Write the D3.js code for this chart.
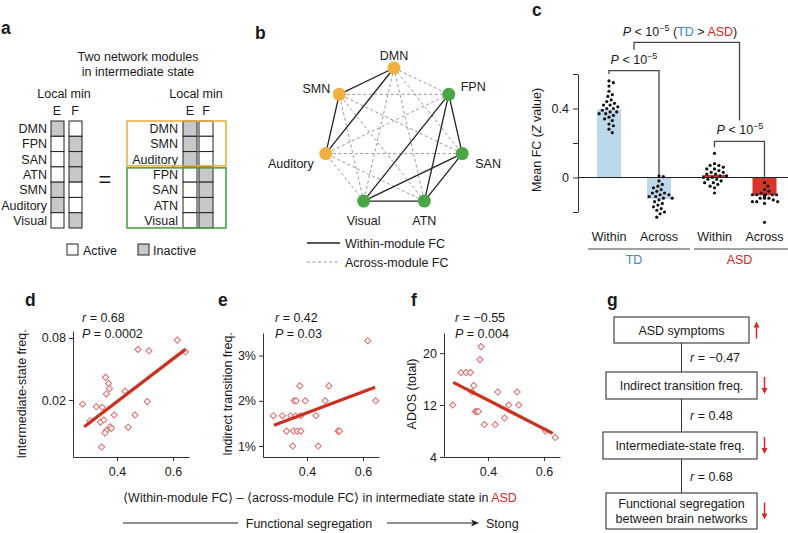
<!DOCTYPE html>
<html><head><meta charset="utf-8">
<script src="https://cdn.jsdelivr.net/npm/d3@7"></script>
<style>
body{margin:0;background:#fff}
svg{display:block}
</style></head><body>
<svg id="fig" width="788" height="533"></svg>
<script>
// ---------------- DATA ----------------
// panel a
const aLeftNets  = ["DMN","FPN","SAN","ATN","SMN","Auditory","Visual"];
const aLeftE     = [0,1,1,1,0,0,1];   // 1 = active, 0 = inactive
const aLeftF     = [1,0,0,0,1,1,0];
const aRightNets = ["DMN","SMN","Auditory","FPN","SAN","ATN","Visual"];
const aRightE    = [0,0,0,1,1,1,1];
const aRightF    = [1,1,1,0,0,0,0];
const aModules   = [3,4];
// panel b
const bNodes  = ["DMN","FPN","SAN","ATN","Visual","Auditory","SMN"];
const bModule = ["A","B","B","B","B","A","A"];
// panel c
const cGroups = ["TD","ASD"];
const cConds  = ["Within","Across"];
const cMeanTD  = [0.395,-0.125];
const cMeanASD = [0.015,-0.103];
const cTDWithin  = [0.56,0.55,0.53,0.50,0.48,0.47,0.45,0.44,0.43,0.42,0.42,0.41,0.40,0.40,0.39,0.38,0.38,0.37,0.37,0.36,0.35,0.34,0.33,0.31,0.30,0.28,0.26];
const cTDAcross  = [0.01,0.005,-0.02,-0.04,-0.05,-0.06,-0.07,-0.08,-0.09,-0.09,-0.10,-0.10,-0.11,-0.11,-0.12,-0.12,-0.13,-0.14,-0.15,-0.16,-0.17,-0.18,-0.19,-0.20,-0.21,-0.23];
const cASDWithin = [0.14,0.08,0.07,0.07,0.06,0.05,0.05,0.04,0.03,0.03,0.02,0.02,0.01,0.01,0.0,0.0,-0.01,-0.01,-0.02,-0.03,-0.03,-0.04,-0.05,-0.06,-0.09];
const cASDAcross = [-0.03,-0.05,-0.07,-0.08,-0.09,-0.10,-0.10,-0.10,-0.10,-0.10,-0.10,-0.11,-0.12,-0.12,-0.12,-0.13,-0.14,-0.14,-0.14,-0.15,-0.26];
const cYTicks = [-0.2,0,0.2,0.4,0.6];
// panel d
const dX = [0.615,0.644,0.475,0.514,0.359,0.370,0.373,0.362,0.429,0.277,0.326,0.347,0.508,0.390,0.464,0.304,0.341,0.353,0.362,0.376,0.380,0.440,0.357,0.345];
const dY = [0.0762,0.0588,0.0620,0.0601,0.0332,0.0290,0.0259,0.0229,0.0244,0.0182,0.0172,0.0170,0.0193,0.0143,0.0143,0.0126,0.0122,0.0128,0.0101,0.0110,0.0106,0.0109,0.0096,0.0070];
const dFitX = [0.283,0.644], dFitY = [0.0110,0.062];
const dYTicks = [0.02,0.08];
// panel e (percent)
const eX = [0.617,0.645,0.374,0.478,0.354,0.361,0.394,0.465,0.280,0.312,0.342,0.359,0.378,0.432,0.327,0.352,0.366,0.378,0.511,0.516,0.349,0.440];
const eY = [3.33,2.0,2.33,2.33,2.0,2.0,2.0,2.0,1.67,1.67,1.67,1.67,1.67,1.67,1.33,1.33,1.33,1.33,1.33,1.33,1.0,1.0];
const eFitX = [0.282,0.643], eFitY = [1.46,2.30];
const eYTicks = [1,2,3];
// panel f
const fX = [0.375,0.371,0.304,0.322,0.337,0.349,0.343,0.435,0.504,0.274,0.474,0.510,0.355,0.360,0.366,0.459,0.387,0.426,0.605,0.640];
const fY = [21,19,17,17,17,15,14,14,14,12,12,12,11,11,11,10,9,9,8,7];
const fFitX = [0.276,0.631], fFitY = [15.5,7.65];
const fYTicks = [4,12,20];
const xTicksDEF = [0.4,0.6];
const statsDEF = [["0.68","0.0002"],["0.42","0.03"],["\u22120.55","0.004"]];
// panel g
const gBoxes = [["ASD symptoms"],["Indirect transition freq."],["Intermediate-state freq."],["Functional segregation","between brain networks"]];
const gR     = ["\u22120.47","0.48","0.68"];
const gTrend = ["up","down","down","down"];

// ---------------- DRAW ----------------
const FONT = '"Liberation Sans", Arial, Helvetica, sans-serif';
const FS = 12.5;
const svg = d3.select("#fig").attr("font-family",FONT).attr("font-size",FS).attr("fill","#1a1a1a");
const RED = "#d42a26", BLUE = "#3d84c6", ORANGE="#f0b040", GREEN="#4aa545", GRAY="#c8c8c8";

function T(g,x,y,s,anchor){ return g.append("text").attr("x",x).attr("y",y).attr("text-anchor",anchor||"start").text(s); }
function letter(x,y,s){ T(svg,x,y,s).attr("font-weight","bold").attr("font-size",17.5); }
letter(1,34,"a"); letter(255,39,"b"); letter(532,16,"c"); letter(25,306,"d"); letter(218,306,"e"); letter(411,306,"f"); letter(607,306,"g");

// ===== panel a =====
const gA = svg.append("g");
T(gA,138,61,"Two network modules","middle");
T(gA,138,76,"in intermediate state","middle");
T(gA,64,98,"Local min","middle");
T(gA,57,115,"E","middle"); T(gA,75,115,"F","middle");
T(gA,196,98,"Local min","middle");
T(gA,190,115,"E","middle"); T(gA,206,115,"F","middle");
const yRow = d3.scaleBand().domain(d3.range(7)).range([121,228]);
function cells(names, E, Fv, labelX, ex, fx, w){
  names.forEach((n,i)=>{
    T(gA,labelX,yRow(i)+yRow.bandwidth()/2+4.5,n,"end");
    gA.append("rect").attr("x",ex).attr("y",yRow(i)).attr("width",w).attr("height",yRow.bandwidth())
      .attr("fill",E[i]?"#fff":GRAY).attr("stroke","#222").attr("stroke-width",1);
    gA.append("rect").attr("x",fx).attr("y",yRow(i)).attr("width",w).attr("height",yRow.bandwidth())
      .attr("fill",Fv[i]?"#fff":GRAY).attr("stroke","#222").attr("stroke-width",1);
  });
}
cells(aLeftNets,aLeftE,aLeftF,47,51,69,13);
cells(aRightNets,aRightE,aRightF,178,183,199,14);
T(gA,105,187,"=","middle").attr("font-size",22);
// module boxes
gA.append("rect").attr("x",127).attr("y",yRow(0)).attr("width",99).attr("height",yRow.bandwidth()*aModules[0]-1)
  .attr("fill","none").attr("stroke",ORANGE).attr("stroke-width",1.6);
gA.append("rect").attr("x",127).attr("y",yRow(aModules[0])+1).attr("width",99).attr("height",yRow.bandwidth()*aModules[1]-1)
  .attr("fill","none").attr("stroke",GREEN).attr("stroke-width",1.6);
// legend
gA.append("rect").attr("x",67).attr("y",244).attr("width",11).attr("height",11).attr("fill","#fff").attr("stroke","#222");
T(gA,83,255,"Active");
gA.append("rect").attr("x",138).attr("y",244).attr("width",11).attr("height",11).attr("fill",GRAY).attr("stroke","#222");
T(gA,153,255,"Inactive");

// ===== panel b =====
const gB = svg.append("g");
const ang = d3.scaleLinear().domain([0,bNodes.length]).range([-Math.PI/2, 1.5*Math.PI]);
const bc = [394,138], br = 70;
const pos = bNodes.map((n,i)=>[bc[0]+br*Math.cos(ang(i)), bc[1]+br*Math.sin(ang(i))]);
const edges = [];
for(let i=0;i<bNodes.length;i++) for(let j=i+1;j<bNodes.length;j++) edges.push([i,j,bModule[i]===bModule[j]]);
gB.selectAll("line.e").data(edges.filter(e=>!e[2])).join("line")
  .attr("x1",d=>pos[d[0]][0]).attr("y1",d=>pos[d[0]][1]).attr("x2",d=>pos[d[1]][0]).attr("y2",d=>pos[d[1]][1])
  .attr("stroke","#999").attr("stroke-width",1).attr("stroke-dasharray","3,2.5");
gB.selectAll("line.s").data(edges.filter(e=>e[2])).join("line")
  .attr("x1",d=>pos[d[0]][0]).attr("y1",d=>pos[d[0]][1]).attr("x2",d=>pos[d[1]][0]).attr("y2",d=>pos[d[1]][1])
  .attr("stroke","#222").attr("stroke-width",1.3);
gB.selectAll("circle").data(bNodes).join("circle")
  .attr("cx",(d,i)=>pos[i][0]).attr("cy",(d,i)=>pos[i][1]).attr("r",6.5)
  .attr("fill",(d,i)=>bModule[i]==="A"?ORANGE:GREEN);
const lblOff = {DMN:[0,-8,"middle"],FPN:[12,-3,"start"],SAN:[13,14,"start"],ATN:[0,24,"middle"],Visual:[0,24,"middle"],Auditory:[-12,14,"end"],SMN:[-9,-1,"end"]};
bNodes.forEach((n,i)=>{const o=lblOff[n]; T(gB,pos[i][0]+o[0],pos[i][1]+o[1],n,o[2]);});
gB.append("line").attr("x1",307).attr("x2",340).attr("y1",243).attr("y2",243).attr("stroke","#222").attr("stroke-width",1.3);
T(gB,345,247.5,"Within-module FC");
gB.append("line").attr("x1",307).attr("x2",340).attr("y1",262).attr("y2",262).attr("stroke","#999").attr("stroke-dasharray","3,2.5");
T(gB,345,266.5,"Across-module FC");

// ===== panel c =====
const gC = svg.append("g");
const yC = d3.scaleLinear().domain([-0.2,0.6]).range([212,74]);
const xGroup = d3.scalePoint().domain(cGroups).range([634,739.5]);
const xCond = d3.scalePoint().domain(cConds).range([-25,25]);
const cx = (g,c)=>xGroup(g)+xCond(c);
const bw = 24;
const bars = [["TD","Within",cMeanTD[0]],["TD","Across",cMeanTD[1]],["ASD","Within",cMeanASD[0]],["ASD","Across",cMeanASD[1]]];
gC.selectAll("rect").data(bars).join("rect")
  .attr("x",d=>cx(d[0],d[1])-bw/2).attr("width",bw)
  .attr("y",d=>Math.min(yC(0),yC(d[2]))).attr("height",d=>Math.abs(yC(d[2])-yC(0)))
  .attr("fill",d=>d[0]==="TD"?"#bdd7eb":"#d8352a");
gC.append("line").attr("x1",578).attr("x2",788).attr("y1",yC(0)).attr("y2",yC(0)).attr("stroke","#222").attr("stroke-width",1.1);
const axC = gC.append("g").attr("transform","translate(578,0)")
  .call(d3.axisLeft(yC).tickValues(cYTicks).tickSize(5).tickSizeOuter(0).tickPadding(4).tickFormat(v=>(v===0?"0":(Math.abs(v-0.4)<1e-9?"0.4":""))));
axC.attr("font-size",FS).attr("font-family",FONT);
axC.selectAll("text").attr("fill","#1a1a1a");
axC.selectAll("line,path").attr("stroke","#333");
function swarm(vals,x0,r,minD){
  const placed=[];
  vals.slice().sort((a,b)=>b-a).forEach(v=>{
    const py=yC(v);
    const cand=[0]; for(let j=1;j<14;j++){cand.push(j*1.1,-j*1.1);}
    let px=x0;
    for(const off of cand){const x=x0+off; if(placed.every(p=>(p.x-x)**2+(p.y-py)**2>=minD*minD)){px=x;break;}}
    placed.push({x:px,y:py});
  });
  return placed;
}
[[cTDWithin,"TD","Within"],[cTDAcross,"TD","Across"],[cASDWithin,"ASD","Within"],[cASDAcross,"ASD","Across"]].forEach(([vals,g,c])=>{
  gC.append("g").selectAll("circle").data(swarm(vals,cx(g,c),1.6,4.1)).join("circle")
    .attr("cx",d=>d.x).attr("cy",d=>d.y).attr("r",1.6).attr("fill","#111");
});
function bracket(x1,x2,vTop,vL,vR){
  gC.append("path").attr("d",`M${x1},${yC(vL)}V${yC(vTop)}H${x2}V${yC(vR)}`).attr("fill","none").attr("stroke","#444").attr("stroke-width",1.3);
}
bracket(cx("TD","Within"),cx("TD","Across"),0.62,0.60,0.015);
bracket(cx("ASD","Within"),cx("ASD","Across"),0.21,0.175,-0.01);
bracket(xGroup("TD"),xGroup("ASD"),0.783,0.74,0.33);
function pText(x,y,extra){
  const t=gC.append("text").attr("x",x).attr("y",y).attr("text-anchor","middle");
  t.append("tspan").attr("font-style","italic").text("P");
  t.append("tspan").text(" < 10");
  t.append("tspan").attr("dy",-5).attr("font-size",9).text("\u22125");
  if(extra){
    t.append("tspan").attr("dy",5).text(" (");
    t.append("tspan").attr("fill",BLUE).text("TD");
    t.append("tspan").text(" > ");
    t.append("tspan").attr("fill",RED).text("ASD");
    t.append("tspan").text(")");
  }
  return t;
}
pText(634,64,false);
pText(740,134,false);
pText(680,36,true);
bars.forEach(d=>T(gC,cx(d[0],d[1]),241,d[1],"middle"));
gC.append("line").attr("x1",588).attr("x2",690).attr("y1",249).attr("y2",249).attr("stroke","#444");
gC.append("line").attr("x1",694).attr("x2",788).attr("y1",249).attr("y2",249).attr("stroke","#444");
T(gC,xGroup("TD"),264,"TD","middle").attr("fill",BLUE);
T(gC,xGroup("ASD"),264,"ASD","middle").attr("fill",RED);
const yl=gC.append("text").attr("transform","translate(541,140) rotate(-90)").attr("text-anchor","middle");
yl.append("tspan").text("Mean FC (");
yl.append("tspan").attr("font-style","italic").text("Z");
yl.append("tspan").text(" value)");

// ===== panels d, e, f =====
const xDomDEF = [0.243,0.657];
function scatter(cfg){
  const g = svg.append("g");
  const x = d3.scaleLinear().domain(xDomDEF).range(cfg.xr);
  const y = (cfg.log?d3.scaleLog():d3.scaleLinear()).domain(cfg.yd).range([457,cfg.yTop]);
  const ax = g.append("g").attr("transform","translate(0,457)")
    .call(d3.axisBottom(x).tickValues(xTicksDEF).tickFormat(d3.format(".1f")).tickSize(4).tickSizeOuter(0).tickPadding(6));
  const ay = g.append("g").attr("transform",`translate(${cfg.xr[0]},0)`)
    .call(d3.axisLeft(y).tickValues(cfg.yt).tickFormat(cfg.fmt).tickSize(4).tickSizeOuter(0).tickPadding(3));
  [ax,ay].forEach(a=>{a.attr("font-size",FS).attr("font-family",FONT); a.selectAll("text").attr("fill","#1a1a1a"); a.selectAll("line,path").attr("stroke","#333");});
  g.selectAll("path.pt").data(cfg.xs).join("path").attr("class","pt")
    .attr("d",d3.symbol(d3.symbolSquare,19)())
    .attr("transform",(d,i)=>`translate(${x(d)},${y(cfg.ys[i])}) rotate(45)`)
    .attr("fill","#fff").attr("stroke","#e06868").attr("stroke-width",1);
  g.append("line").attr("x1",x(cfg.fx[0])).attr("y1",y(cfg.fy[0])).attr("x2",x(cfg.fx[1])).attr("y2",y(cfg.fy[1]))
    .attr("stroke","#cc3020").attr("stroke-width",3.2);
  const st = statsDEF[cfg.k];
  const t1=g.append("text").attr("x",cfg.sx).attr("y",322);
  t1.append("tspan").attr("font-style","italic").text("r"); t1.append("tspan").text(" = "+st[0]);
  const t2=g.append("text").attr("x",cfg.sx).attr("y",338);
  t2.append("tspan").attr("font-style","italic").text("P"); t2.append("tspan").text(" = "+st[1]);
  g.append("text").attr("transform",`translate(${cfg.lx},394) rotate(-90)`).attr("text-anchor","middle").text(cfg.label);
}
scatter({k:0,xr:[73,189],yTop:331,log:true,yd:[0.0056,0.0935],yt:dYTicks,fmt:d3.format(".2f"),xs:dX,ys:dY,fx:dFitX,fy:dFitY,sx:82,lx:26,label:"Intermediate-state freq."});
scatter({k:1,xr:[263,379],yTop:333,log:false,yd:[0.757,3.5],yt:eYTicks,fmt:v=>v+"%",xs:eX,ys:eY,fx:eFitX,fy:eFitY,sx:275,lx:232,label:"Indirect transition freq."});
scatter({k:2,xr:[444,560],yTop:333,log:false,yd:[4,23.1],yt:fYTicks,fmt:d3.format("d"),xs:fX,ys:fY,fx:fFitX,fy:fFitY,sx:455,lx:416,label:"ADOS (total)"});
const xl = svg.append("text").attr("x",320).attr("y",502).attr("text-anchor","middle");
xl.append("tspan").text("\u27E8Within-module FC\u27E9 \u2013 \u27E8across-module FC\u27E9 in intermediate state in ");
xl.append("tspan").attr("fill",RED).text("ASD");
svg.append("line").attr("x1",123).attr("x2",238).attr("y1",523).attr("y2",523).attr("stroke","#222");
T(svg,309,527.5,"Functional segregation","middle");
svg.append("line").attr("x1",387).attr("x2",474).attr("y1",523).attr("y2",523).attr("stroke","#222");
svg.append("path").attr("d","M479,523 L471,519.5 L473,523 L471,526.5 Z").attr("fill","#222");
T(svg,486,527.5,"Stong");

// ===== panel g =====
const gG = svg.append("g");
const gLayout = [{x0:614,x1:749,y:317,h:26},{x0:606,x1:757,y:372,h:27},{x0:603,x1:757,y:432,h:27},{x0:606,x1:757,y:493,h:36}];
const cxG = 681.5;
gLayout.forEach((b,i)=>{
  if(i<gLayout.length-1){
    const nb=gLayout[i+1];
    gG.append("line").attr("x1",cxG).attr("x2",cxG).attr("y1",b.y+b.h).attr("y2",nb.y).attr("stroke","#333");
    const t=gG.append("text").attr("x",690).attr("y",(b.y+b.h+nb.y)/2+4.5);
    t.append("tspan").attr("font-style","italic").text("r");
    t.append("tspan").text(" = "+gR[i]);
  }
  gG.append("rect").attr("x",b.x0).attr("y",b.y).attr("width",b.x1-b.x0).attr("height",b.h).attr("fill","#fff").attr("stroke","#333").attr("stroke-width",1.1);
  const lines=gBoxes[i];
  lines.forEach((s,j)=>T(gG,(b.x0+b.x1)/2,b.y+b.h/2+4.5+(j-(lines.length-1)/2)*15,s,"middle"));
  const ax=b.x1+7.5, yc=b.y+b.h/2, L=8.5;
  const up=gTrend[i]==="up";
  const tip=up?yc-L:yc+L, tail=up?yc+L:yc-L, dir=up?1:-1;
  gG.append("line").attr("x1",ax).attr("x2",ax).attr("y1",tail).attr("y2",tip+dir*4).attr("stroke",RED).attr("stroke-width",1.5);
  gG.append("path").attr("d",`M${ax},${tip} L${ax-3},${tip+dir*6} L${ax+3},${tip+dir*6} Z`).attr("fill",RED);
});
</script>
</body></html>
